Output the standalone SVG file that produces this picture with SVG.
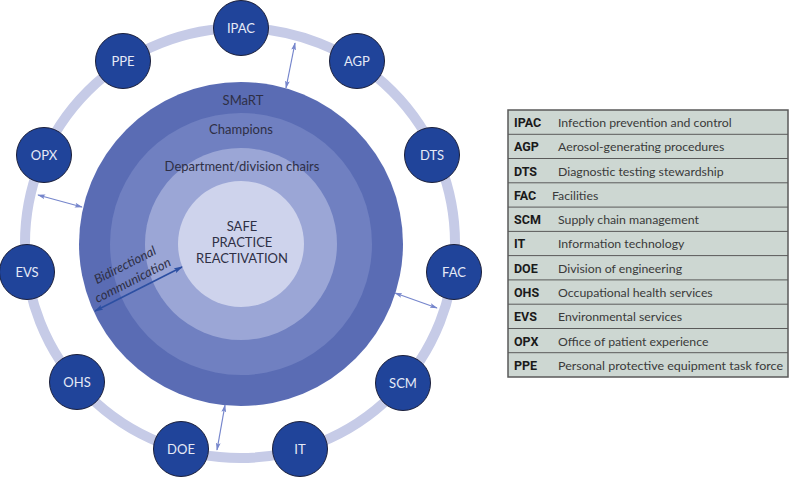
<svg xmlns="http://www.w3.org/2000/svg" width="791" height="477" viewBox="0 0 791 477">
<style>
.node circle{fill:#20449a;stroke:#1b1f3a;stroke-width:1}
.node text{fill:#e6eaf6;font-family:Lato,"Open Sans",sans-serif;font-size:13px;text-anchor:middle}
.lbl{fill:#2e2f45;font-family:Lato,"Open Sans",sans-serif;font-size:13px;text-anchor:middle}
.ab{font-family:Roboto,"Liberation Sans",sans-serif;font-weight:bold;font-size:12.5px;fill:#1a1a1a}
.ds{font-family:Lato,"Open Sans",sans-serif;font-size:12.3px;fill:#3a3a3a}
.la{stroke:#7686cc;stroke-width:1.2;fill:none;marker-start:url(#ha);marker-end:url(#ha)}
.da{stroke:#2c4fa2;stroke-width:1.6;fill:none;marker-start:url(#hd);marker-end:url(#hd)}
</style>
<defs>
<marker id="ha" viewBox="0 0 10 6" refX="9" refY="3" markerWidth="8" markerHeight="5" markerUnits="userSpaceOnUse" orient="auto-start-reverse"><path d="M0,0 L10,3 L0,6 L2,3 z" fill="#7686cc"/></marker>
<marker id="hd" viewBox="0 0 10 6" refX="9" refY="3" markerWidth="9" markerHeight="6" markerUnits="userSpaceOnUse" orient="auto-start-reverse"><path d="M0,0 L10,3 L0,6 L2,3 z" fill="#2c4fa2"/></marker>
</defs>
<rect width="791" height="477" fill="#ffffff"/>
<circle cx="240" cy="243" r="215" fill="none" stroke="#c6cbe7" stroke-width="10"/>
<g id="layers">
<circle cx="241" cy="244" r="162" fill="#5a6cb4"/>
<circle cx="241" cy="244" r="131" fill="#7080c1"/>
<circle cx="241" cy="244" r="96" fill="#9ba6d6"/>
<circle cx="241" cy="244" r="63" fill="#ced3ec"/>
<text class="lbl" x="243" y="105">SMaRT</text>
<text class="lbl" x="241" y="134">Champions</text>
<text class="lbl" x="242" y="171">Department/division chairs</text>
<text class="lbl" x="242" y="231">SAFE</text>
<text class="lbl" x="242" y="247">PRACTICE</text>
<text class="lbl" x="242" y="263">REACTIVATION</text>
<g transform="translate(127,269) rotate(-27)"><text class="lbl" font-style="italic" font-size="12.5" x="0" y="0">Bidirectional</text><text class="lbl" font-style="italic" font-size="12.5" x="0" y="17">communication</text></g>
</g>
<g id="connectors">
<line class="la" x1="295" y1="43" x2="286" y2="88"/>
<line class="la" x1="38" y1="195" x2="82" y2="207"/>
<line class="la" x1="395" y1="293" x2="437" y2="308"/>
<line class="la" x1="225" y1="405" x2="217" y2="450"/>
<line class="da" x1="95" y1="311" x2="182" y2="267"/>
</g>
<g id="IPAC" class="node"><circle cx="241" cy="28" r="27.5"/><text x="241" y="33">IPAC</text></g>
<g id="AGP" class="node"><circle cx="357" cy="61" r="27.5"/><text x="357" y="66">AGP</text></g>
<g id="DTS" class="node"><circle cx="432" cy="155" r="27.5"/><text x="432" y="160">DTS</text></g>
<g id="FAC" class="node"><circle cx="454" cy="272" r="27.5"/><text x="454" y="277">FAC</text></g>
<g id="SCM" class="node"><circle cx="403" cy="383" r="27.5"/><text x="403" y="388">SCM</text></g>
<g id="IT" class="node"><circle cx="300" cy="449" r="27.5"/><text x="300" y="454">IT</text></g>
<g id="DOE" class="node"><circle cx="181" cy="449" r="27.5"/><text x="181" y="454">DOE</text></g>
<g id="OHS" class="node"><circle cx="77" cy="382" r="27.5"/><text x="77" y="387">OHS</text></g>
<g id="EVS" class="node"><circle cx="27" cy="272" r="27.5"/><text x="27" y="277">EVS</text></g>
<g id="OPX" class="node"><circle cx="44" cy="155" r="27.5"/><text x="44" y="160">OPX</text></g>
<g id="PPE" class="node"><circle cx="123" cy="61" r="27.5"/><text x="123" y="66">PPE</text></g>
<g id="legend">
<rect x="508" y="110" width="280" height="267" fill="#cdd7d2" stroke="#5a5a5a" stroke-width="1.5"/>
<g stroke="#5a5a5a" stroke-width="1">
<line x1="508" y1="134.3" x2="788" y2="134.3"/><line x1="508" y1="158.5" x2="788" y2="158.5"/><line x1="508" y1="182.8" x2="788" y2="182.8"/><line x1="508" y1="207.1" x2="788" y2="207.1"/><line x1="508" y1="231.4" x2="788" y2="231.4"/><line x1="508" y1="255.6" x2="788" y2="255.6"/><line x1="508" y1="279.9" x2="788" y2="279.9"/><line x1="508" y1="304.2" x2="788" y2="304.2"/><line x1="508" y1="328.5" x2="788" y2="328.5"/><line x1="508" y1="352.7" x2="788" y2="352.7"/>
</g>
<text class="ab" x="514" y="127">IPAC</text><text class="ds" x="558" y="127">Infection prevention and control</text>
<text class="ab" x="514" y="151.3">AGP</text><text class="ds" x="558" y="151.3">Aerosol-generating procedures</text>
<text class="ab" x="514" y="175.5">DTS</text><text class="ds" x="558" y="175.5">Diagnostic testing stewardship</text>
<text class="ab" x="514" y="199.8">FAC</text><text class="ds" x="552" y="199.8">Facilities</text>
<text class="ab" x="514" y="224.1">SCM</text><text class="ds" x="558" y="224.1">Supply chain management</text>
<text class="ab" x="514" y="248.4">IT</text><text class="ds" x="558" y="248.4">Information technology</text>
<text class="ab" x="514" y="272.6">DOE</text><text class="ds" x="558" y="272.6">Division of engineering</text>
<text class="ab" x="514" y="296.9">OHS</text><text class="ds" x="558" y="296.9">Occupational health services</text>
<text class="ab" x="514" y="321.2">EVS</text><text class="ds" x="558" y="321.2">Environmental services</text>
<text class="ab" x="514" y="345.5">OPX</text><text class="ds" x="558" y="345.5">Office of patient experience</text>
<text class="ab" x="514" y="369.7">PPE</text><text class="ds" x="558" y="369.7" textLength="225" lengthAdjust="spacingAndGlyphs">Personal protective equipment task force</text>
</g>
</svg>
